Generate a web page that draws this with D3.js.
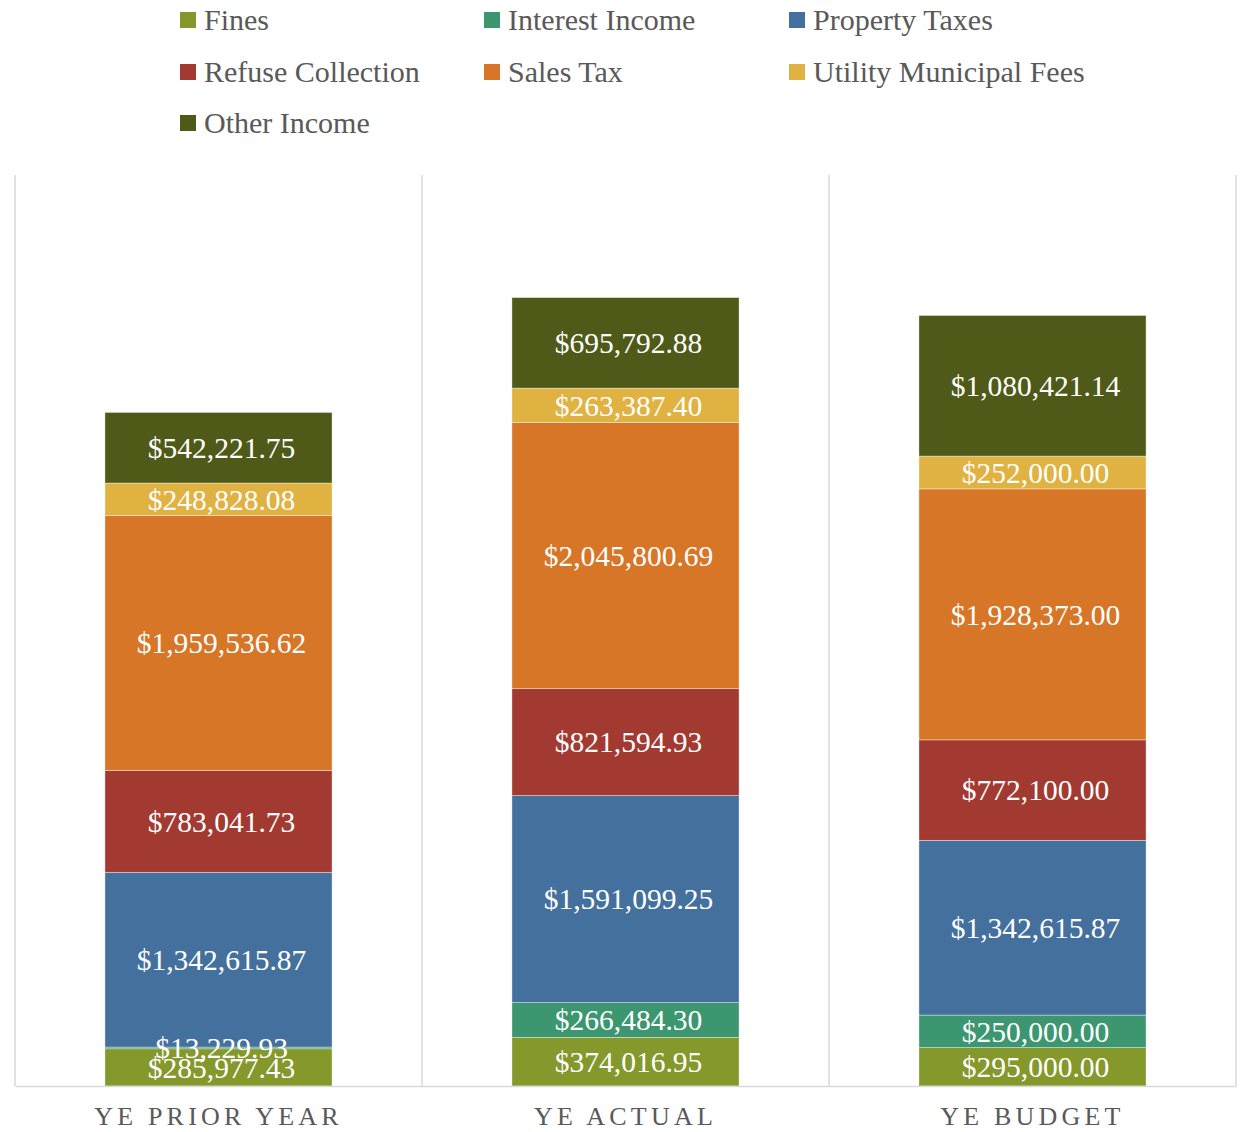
<!DOCTYPE html>
<html>
<head>
<meta charset="utf-8">
<script src="https://cdn.jsdelivr.net/npm/d3@7"></script>
<style>
  body { margin: 0; background: #fff; }
  svg { display: block; }
</style>
</head>
<body>
<div id="chart"></div>
<script>
const svgWidth = 1243;
const svgHeight = 1132;

const categories = ['YE PRIOR YEAR', 'YE ACTUAL', 'YE BUDGET'];
const seriesNames = ['Fines', 'Interest Income', 'Property Taxes', 'Refuse Collection', 'Sales Tax', 'Utility Municipal Fees', 'Other Income'];
const seriesColors = ['#84982b', '#3c9670', '#44709d', '#a23a32', '#d77627', '#e0b242', '#4f5a19'];

const fines = [285977.43, 374016.95, 295000.00];
const interestIncome = [13229.93, 266484.30, 250000.00];
const propertyTaxes = [1342615.87, 1591099.25, 1342615.87];
const refuseCollection = [783041.73, 821594.93, 772100.00];
const salesTax = [1959536.62, 2045800.69, 1928373.00];
const utilityFees = [248828.08, 263387.40, 252000.00];
const otherIncome = [542221.75, 695792.88, 1080421.14];

const seriesValues = [fines, interestIncome, propertyTaxes, refuseCollection, salesTax, utilityFees, otherIncome];

const chartMargin = { top: 175, right: 7, bottom: 46, left: 15 };
const chartWidth = svgWidth - chartMargin.left - chartMargin.right;
const chartHeight = svgHeight - chartMargin.top - chartMargin.bottom;

const font = '"Liberation Serif", "DejaVu Serif", serif';

const table = categories.map((c, i) => {
    const row = { category: c };
    seriesNames.forEach((s, j) => { row[s] = seriesValues[j][i]; });
    return row;
});

const stacked = d3.stack().keys(seriesNames)(table);

const x = d3.scaleBand()
    .domain(categories)
    .range([0, chartWidth])
    .paddingInner(0)
    .paddingOuter(0);

const y = d3.scaleLinear()
    .domain([0, 7000000])
    .range([chartHeight, 0]);

const color = d3.scaleOrdinal().domain(seriesNames).range(seriesColors);

const svg = d3.select('#chart')
    .append('svg')
    .attr('width', svgWidth)
    .attr('height', svgHeight);

const g = svg.append('g')
    .attr('transform', `translate(${chartMargin.left},${chartMargin.top})`);

// category separators
const seps = categories.map(c => x(c)).concat([chartWidth]);
g.selectAll('.sep')
    .data(seps)
    .join('line')
    .attr('x1', d => d).attr('x2', d => d)
    .attr('y1', 0).attr('y2', chartHeight)
    .attr('stroke', '#d9d9d9')
    .attr('stroke-width', 1.5);

const barW = x.bandwidth() * 0.558;
const barOff = (x.bandwidth() - barW) / 2;

const layers = g.selectAll('.layer')
    .data(stacked)
    .join('g')
    .attr('fill', d => color(d.key));

layers.selectAll('rect')
    .data(d => d)
    .join('rect')
    .attr('x', d => x(d.data.category) + barOff)
    .attr('width', barW)
    .attr('y', d => y(d[1]))
    .attr('height', d => y(d[0]) - y(d[1]))
    .attr('stroke', '#ffffff')
    .attr('stroke-opacity', 0.5)
    .attr('stroke-width', 0.75);

const fmt = d3.format('$,.2f');

// labels drawn on top of all bars
const labelData = stacked.flatMap(s => s.map(v => ({ v, key: s.key })));
g.append('g').selectAll('text')
    .data(labelData)
    .join('text')
    .attr('x', d => x(d.v.data.category) + x.bandwidth() / 2 + 3)
    .attr('y', d => (y(d.v[0]) + y(d.v[1])) / 2)
    .attr('dy', '0.35em')
    .attr('text-anchor', 'middle')
    .attr('fill', '#ffffff')
    .style('font-family', font)
    .style('font-size', '29.5px')
    .text(d => fmt(d.v.data[d.key]));

// baseline axis
const xAxis = g.append('g')
    .attr('transform', `translate(0,${chartHeight})`)
    .call(d3.axisBottom(x).tickSize(0).tickPadding(21));
xAxis.select('.domain').attr('stroke', '#d9d9d9').attr('stroke-width', 1.5);
xAxis.selectAll('text')
    .attr('dy', '0.71em')
    .style('font-family', font)
    .style('font-size', '26px')
    .style('letter-spacing', '4.2px')
    .attr('fill', '#595959');

// legend
const legendCols = [180, 484, 789];
const legendRows = [20, 72, 123];
const legend = svg.append('g').selectAll('.legend')
    .data(seriesNames)
    .join('g')
    .attr('transform', (d, i) => `translate(${legendCols[i % 3]},${legendRows[Math.floor(i / 3)]})`);

legend.append('rect')
    .attr('x', 0).attr('y', -8)
    .attr('width', 16).attr('height', 16)
    .attr('fill', d => color(d));

legend.append('text')
    .attr('x', 24)
    .attr('y', 0)
    .attr('dy', '0.33em')
    .style('font-family', font)
    .style('font-size', '30px')
    .attr('fill', '#595959')
    .text(d => d);
</script>
</body>
</html>
